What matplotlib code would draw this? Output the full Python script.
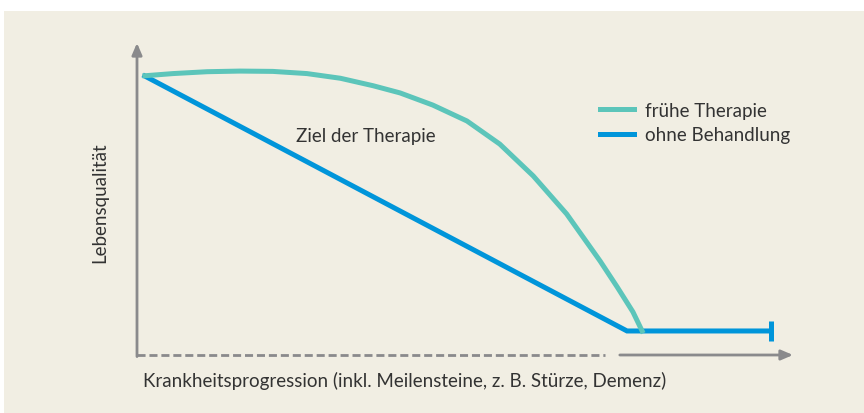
import matplotlib.pyplot as plt
from matplotlib.patches import Rectangle
from matplotlib.lines import Line2D

plt.rcParams['font.family'] = ['Lato', 'DejaVu Sans']

# Krankheitsprogression (0-100) und Lebensqualität (0-100)
frueh_x = [1.2, 5.5, 10.7, 15.7, 20.7, 25.9, 31.0, 36.0, 40.1, 45.1, 50.3, 55.3,
           60.4, 65.5, 70.6, 73.2, 75.6, 77.0]
frueh_y = [89.5, 90.2, 90.8, 91.0, 90.9, 90.2, 88.7, 86.3, 84.0, 80.1, 75.0, 67.6,
           57.4, 45.2, 30.1, 21.8, 13.8, 7.7]

ohne_x = [1.2, 74.7, 96.6]
ohne_y = [89.4, 7.7, 7.7]

labels = ['frühe Therapie', 'ohne Behandlung']
farben = ['#5cc5ba', '#0095da']
grau = '#8a8a8c'
text_farbe = '#333333'
fs = 13.5

fig = plt.figure(figsize=(8.64, 4.14), dpi=100)
fig.patch.set_facecolor('white')
fig.patches.append(Rectangle((4 / 864, 0), 1, 1 - 12 / 414, transform=fig.transFigure,
                             facecolor='#f1eee3', edgecolor='none', zorder=-5))

ax = fig.add_axes([137 / 864, 58 / 414, 656 / 864, 312 / 414])
ax.set_zorder(2)
ax.set_xlim(0, 100)
ax.set_ylim(0, 100)
ax.axis('off')

# Achsen mit Pfeilen
ax.annotate('', xy=(0, 100), xytext=(0, -0.5),
            arrowprops=dict(arrowstyle='-|>,head_length=0.7,head_width=0.3', color=grau, lw=2,
                            shrinkA=0, shrinkB=0))
ax.plot([0, 71.3], [0, 0], color=grau, lw=2, ls=(0, (2.9, 1.4)), solid_capstyle='butt',
        clip_on=False)
ax.annotate('', xy=(100, 0), xytext=(73.6, 0),
            arrowprops=dict(arrowstyle='-|>,head_length=0.7,head_width=0.3', color=grau, lw=2,
                            shrinkA=0, shrinkB=0))

ax.plot(ohne_x, ohne_y, color=farben[1], lw=3.6, solid_joinstyle='miter', zorder=3)
ax.plot([ohne_x[-1]], [ohne_y[-1]], marker='|', ms=15, mew=3.6, color=farben[1], zorder=3)
ax.plot(frueh_x, frueh_y, color=farben[0], lw=3.6, solid_joinstyle='round', zorder=4)

ax.text(24.2, 70.2, 'Ziel der Therapie', fontsize=fs, color=text_farbe, va='center', ha='left')

handles = [Line2D([], [], color=c, lw=3.6) for c in farben]
fig.legend(handles, labels, loc='upper left', bbox_to_anchor=(600 / 864, 1 - 103 / 414),
           frameon=False, fontsize=fs, handlelength=1.8, handletextpad=0.6,
           labelspacing=0.4, borderpad=0, borderaxespad=0, labelcolor=text_farbe)

fig.text(100 / 864, 1 - 203 / 414, 'Lebensqualität', rotation=90, fontsize=fs,
         color=text_farbe, ha='center', va='center')
fig.text(143 / 864, 1 - 381 / 414, 'Krankheitsprogression (inkl. Meilensteine, z. B. Stürze, Demenz)',
         fontsize=fs, color=text_farbe, ha='left', va='center')

fig.savefig('out.png', dpi=100)
